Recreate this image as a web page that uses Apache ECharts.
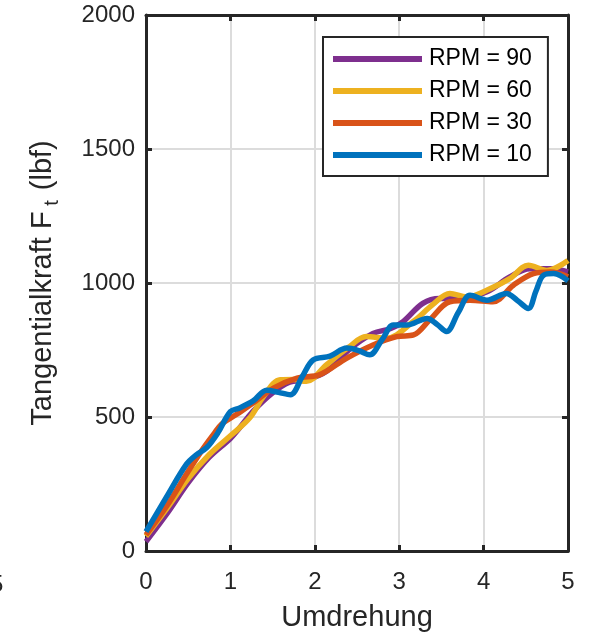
<!DOCTYPE html>
<html><head><meta charset="utf-8">
<script src="https://cdn.jsdelivr.net/npm/echarts@6/dist/echarts.min.js"></script>
<style>html,body{margin:0;padding:0;background:#fff}#c{width:595px;height:637px}</style>
</head><body><div id="c"></div>
<script>
const xTicks = [0, 1, 2, 3, 4, 5];
const yTicks = [0, 500, 1000, 1500, 2000];
const seriesNames = ['RPM = 90', 'RPM = 60', 'RPM = 30', 'RPM = 10'];
const colors = ['#7E2F8E', '#EDB120', '#D95319', '#0072BD'];

const rpm90 = [[0,35],[0.25,140],[0.5,255],[0.75,350],[1.0,420],[1.11,460],[1.27,522],[1.5,590],[1.7,630],[1.9,639],[2.14,671],[2.4,750],[2.69,812],[2.9,830],[3.05,857],[3.28,924],[3.48,942],[3.72,942],[4.04,967],[4.31,1023],[4.55,1053],[4.79,1053],[5.0,1041]];
const rpm60 = [[0,55],[0.25,160],[0.5,270],[0.75,360],[1.0,430],[1.23,497],[1.4,580],[1.59,639],[1.75,640],[1.9,633],[2.14,695],[2.4,760],[2.61,800],[2.85,794],[3.17,857],[3.4,920],[3.6,961],[3.8,948],[4.08,979],[4.31,1016],[4.53,1066],[4.75,1047],[5.0,1084]];
const rpm30 = [[0,60],[0.25,170],[0.48,287],[0.65,370],[0.8,435],[0.9,475],[1.07,509],[1.3,560],[1.51,608],[1.79,645],[2.06,658],[2.38,720],[2.69,769],[2.97,800],[3.17,806],[3.36,862],[3.6,930],[3.84,936],[4.11,930],[4.35,991],[4.59,1035],[4.79,1041],[5.0,1023]];
const rpm10 = [[0,72],[0.24,200],[0.48,324],[0.6,360],[0.72,386],[0.85,440],[1.0,520],[1.11,534],[1.27,560],[1.43,600],[1.57,592],[1.71,583],[1.85,650],[1.98,713],[2.18,727],[2.38,757],[2.52,748],[2.65,732],[2.8,790],[2.93,843],[3.09,843],[3.33,868],[3.45,845],[3.56,819],[3.7,890],[3.84,954],[4.04,936],[4.27,961],[4.4,935],[4.53,905],[4.62,970],[4.71,1029],[4.83,1035],[5.0,1008]];
const allData = [rpm90, rpm60, rpm30, rpm10];

const font = 'Liberation Sans, Arial, sans-serif';
const dark = '#262626';
const chart = echarts.init(document.getElementById('c'), null, {renderer: 'canvas'});
const ax = {
  axisLine: {show: true, onZero: false, lineStyle: {color: dark, width: 3}},
  axisTick: {show: true, inside: true, length: 6, lineStyle: {color: dark, width: 3}},
  splitLine: {show: false}
};
chart.setOption({
  animation: false,
  color: colors,
  grid: {left: 146, right: 27, top: 15, bottom: 83, containLabel: false},
  legend: {
    data: seriesNames, orient: 'vertical', left: 323, top: 37,
    backgroundColor: '#fff', borderColor: dark, borderWidth: 2,
    padding: [10, 16, 9, 10], itemGap: 8, itemWidth: 89, itemHeight: 6,
    icon: 'rect',
    textStyle: {fontFamily: font, fontSize: 23, color: '#000', lineHeight: 24, padding: [0, 0, 0, 2]}
  },
  xAxis: [{
    type: 'value', min: 0, max: 5, interval: 1, position: 'bottom',
    name: 'Umdrehung', nameLocation: 'middle', nameGap: 52,
    nameTextStyle: {fontFamily: font, fontSize: 29, color: dark},
    axisLabel: {fontFamily: font, fontSize: 24, color: dark, margin: 19, formatter: v => xTicks.includes(v) ? String(v) : ''},
    ...ax,
    splitLine: {show: true, lineStyle: {color: '#dcdcdc', width: 2}}
  }, {
    type: 'value', min: 0, max: 5, interval: 1, position: 'top',
    axisLabel: {show: false}, ...ax
  }],
  yAxis: [{
    type: 'value', min: 0, max: 2000, interval: 500, position: 'left',
    name: '{a|Tangentialkraft F}{s| t}{a| (lbf)}', nameLocation: 'middle', nameGap: 84,
    nameTextStyle: {rich: {
      a: {fontFamily: font, fontSize: 29, color: dark},
      s: {fontFamily: font, fontSize: 20, color: dark, padding: [18, 2, 0, 0]}
    }},
    axisLabel: {fontFamily: font, fontSize: 24, color: dark, margin: 11, formatter: v => yTicks.includes(v) ? String(v) : ''},
    ...ax,
    splitLine: {show: true, lineStyle: {color: '#dcdcdc', width: 2}}
  }, {
    type: 'value', min: 0, max: 2000, interval: 500, position: 'right',
    axisLabel: {show: false}, ...ax
  }],
  graphic: [{type: 'text', left: -10, top: 573, style: {text: '5', fontFamily: font, fontSize: 24, fill: dark}}],
  series: allData.map((d, i) => ({
    name: seriesNames[i], type: 'line', data: d, smooth: 0.35, showSymbol: false,
    lineStyle: {width: 5.5, color: colors[i]}, z: 2 + i
  }))
});
</script></body></html>
